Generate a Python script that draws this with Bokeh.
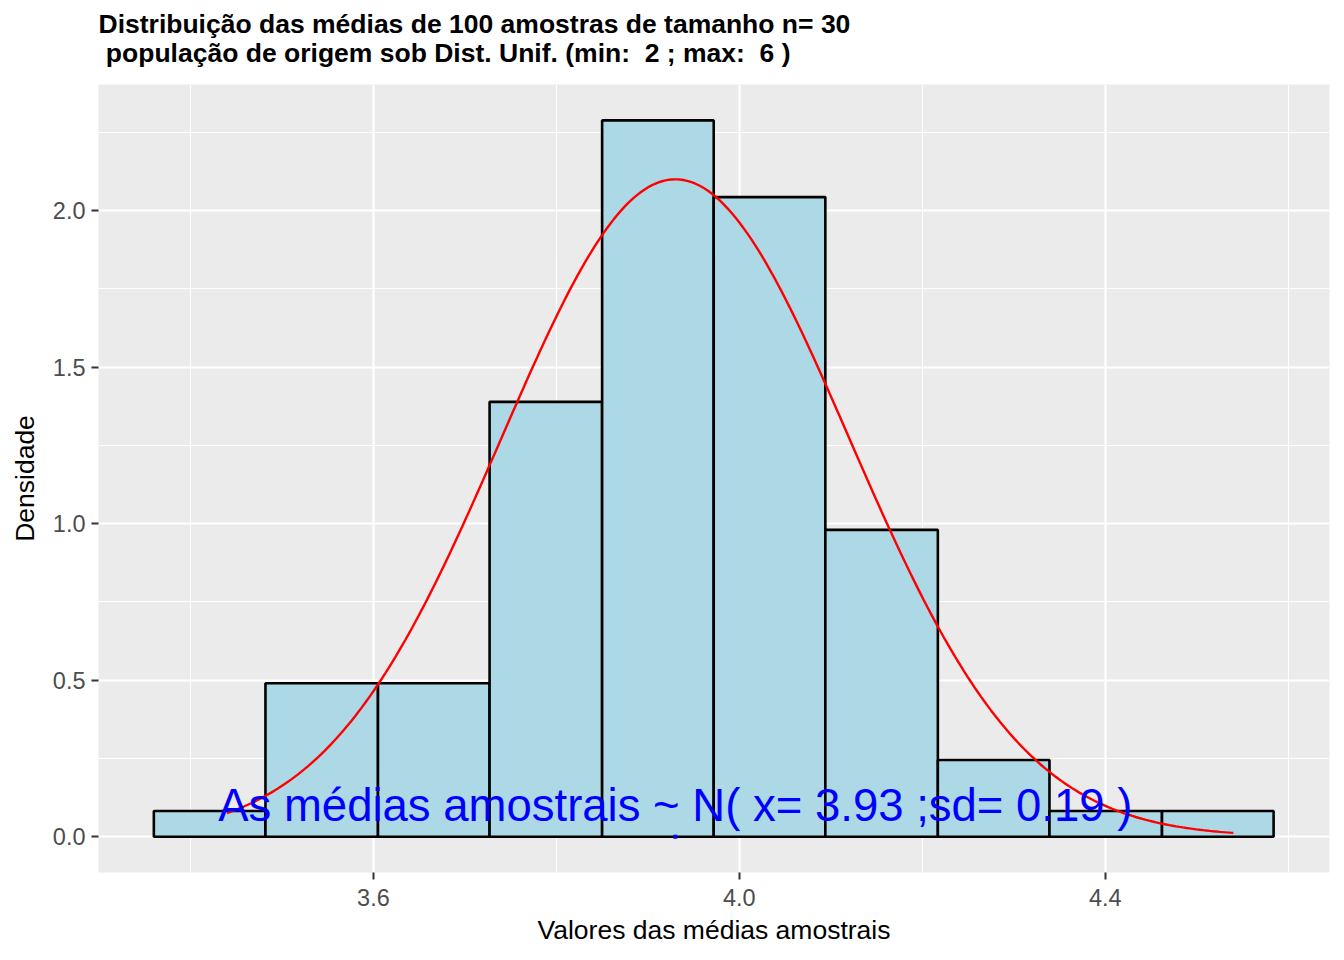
import numpy as np
from bokeh.plotting import figure
from bokeh.models import Range1d, FixedTicker, Title, ColumnDataSource
from bokeh.core.properties import value
from bokeh.embed import file_html
from bokeh.resources import INLINE

# ---- data ----
bin_edges = [3.360, 3.482, 3.605, 3.727, 3.850, 3.972, 4.094, 4.217, 4.339, 4.462, 4.584]
densities = [0.082, 0.490, 0.490, 1.389, 2.288, 2.043, 0.980, 0.245, 0.082, 0.082]
sample_mean = 3.93
sample_sd = 0.19
curve_min = 3.44
curve_max = 4.54
x_ticks = [3.6, 4.0, 4.4]
x_minor = [3.4, 3.8, 4.2, 4.6]
y_ticks = [0.0, 0.5, 1.0, 1.5, 2.0]
y_minor = [0.25, 0.75, 1.25, 1.75, 2.25]
title_line1 = "Distribuição das médias de 100 amostras de tamanho n= 30"
title_line2 = "\u00a0população de origem sob Dist. Unif. (min: \u00a02 ; max: \u00a06 )"
x_label = "Valores das médias amostrais"
y_label = "Densidade"
note = "As médias amostrais ~ N( x= 3.93 ;sd= 0.19 )"

FONT = "Liberation Sans"

p = figure(width=1344, height=960, output_backend="svg", toolbar_location=None,
           x_range=Range1d(3.2995, 4.6451), y_range=Range1d(-0.1144, 2.4026),
           min_border_left=98, min_border_right=15, min_border_top=84, min_border_bottom=88)
p.background_fill_color = "#EBEBEB"
p.border_fill_color = "white"
p.outline_line_color = None

# titles (inner line added first)
t2 = Title(text=title_line2, text_font=FONT, text_font_size="26.5px", text_font_style="bold",
           text_color="black", align="left", standoff=34)
t1 = Title(text=title_line1, text_font=FONT, text_font_size="26.5px", text_font_style="bold",
           text_color="black", align="left", standoff=-40)
p.title.visible = False
p.add_layout(t2, "above")
p.add_layout(t1, "above")

# axes
for ax in (p.xaxis, p.yaxis):
    ax.axis_line_color = None
    ax.major_tick_line_color = "#333333"
    ax.major_tick_line_width = 2
    ax.major_tick_out = 7
    ax.major_tick_in = 0
    ax.minor_tick_line_color = None
    ax.major_label_text_font = FONT
    ax.major_label_text_font_size = "23.5px"
    ax.major_label_text_color = "#4D4D4D"
    ax.axis_label_text_font = FONT
    ax.axis_label_text_font_size = "26.5px"
    ax.axis_label_text_font_style = "normal"
    ax.axis_label_text_color = "black"

p.xaxis.ticker = FixedTicker(ticks=x_ticks, minor_ticks=x_minor)
p.yaxis.ticker = FixedTicker(ticks=y_ticks, minor_ticks=y_minor)
p.xaxis.major_label_overrides = {v: f"{v:.1f}" for v in x_ticks}
p.yaxis.major_label_overrides = {v: f"{v:.1f}" for v in y_ticks}
p.xaxis.axis_label = x_label
p.yaxis.axis_label = y_label
p.xaxis.major_label_standoff = 9
p.yaxis.major_label_standoff = 6
p.xaxis.axis_label_standoff = 6
p.yaxis.axis_label_standoff = 10

for g in (p.xgrid, p.ygrid):
    g.grid_line_color = "white"
    g.grid_line_width = 2.2
    g.minor_grid_line_color = "white"
    g.minor_grid_line_width = 1.1

# histogram
src = ColumnDataSource(dict(left=bin_edges[:-1], right=bin_edges[1:], top=densities,
                            bottom=[0] * len(densities)))
p.quad(left="left", right="right", top="top", bottom="bottom", source=src,
       fill_color="#ADD8E6", line_color="black", line_width=2.6)

# normal curve
xs = np.linspace(curve_min, curve_max, 300)
ys = np.exp(-0.5 * ((xs - sample_mean) / sample_sd) ** 2) / (sample_sd * np.sqrt(2 * np.pi))
p.line(xs, ys, line_color="red", line_width=2.4)

# mean marker
p.scatter([sample_mean], [0.0], marker="square", size=4, fill_color="blue", line_color=None)

# annotation
p.text(x=[sample_mean], y=[0.1], text=[note], text_font=value(FONT), text_font_size="45.5px",
       text_color="blue", text_align="center", text_baseline="middle")

open("out.html", "w").write(file_html(p, INLINE))
